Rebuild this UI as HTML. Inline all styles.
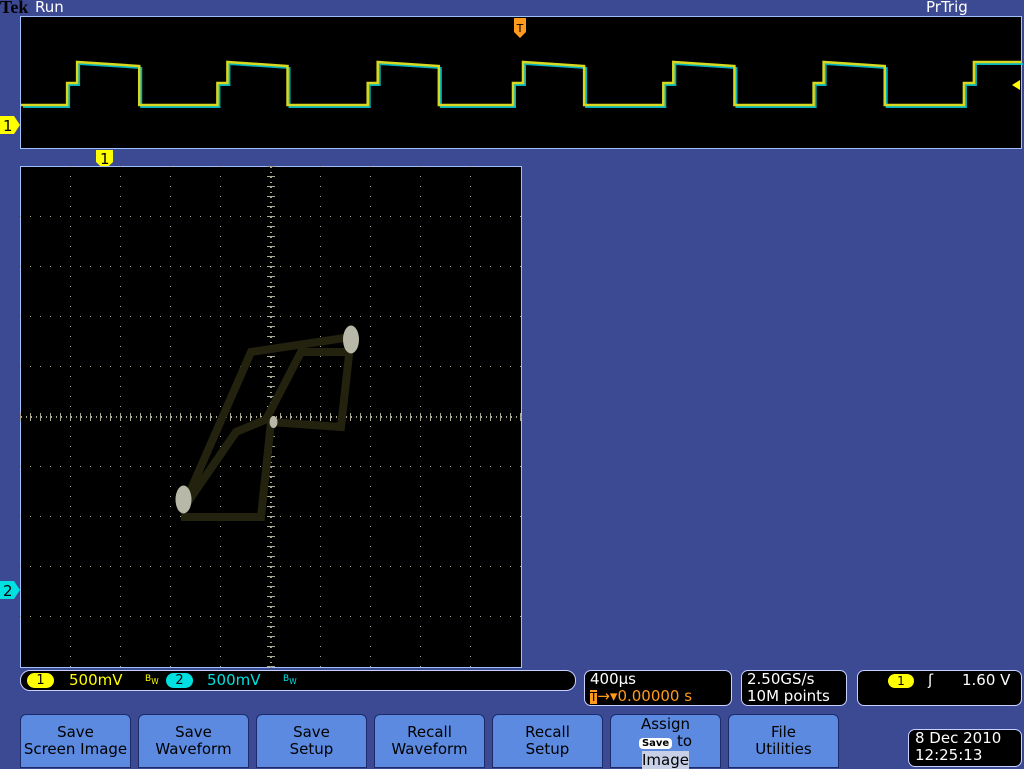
<!DOCTYPE html>
<html><head><meta charset="utf-8">
<style>
body{margin:0;width:1024px;height:768px;background:#3c4a94;overflow:hidden;font-family:"Liberation Sans","DejaVu Sans",sans-serif;position:relative}
.abs{position:absolute}
.btn{position:absolute;top:714px;width:111px;height:54px;background:#5b8ae0;border:1px solid #1c2a6a;border-radius:6px 6px 0 0;box-sizing:border-box;color:#000;font-family:"DejaVu Sans",sans-serif;font-size:15px;text-align:center;line-height:17px;padding-top:9px}
.box{position:absolute;background:#000;border:1px solid #c8d0ff;border-radius:7px;box-sizing:border-box;font-family:"DejaVu Sans",sans-serif;font-size:15px;color:#fff}
</style></head><body>
<div class="abs" style="left:0;top:-3px;font-family:'Liberation Serif',serif;font-weight:bold;font-size:18px;color:#000">Tek</div>
<div class="abs" style="left:35px;top:-2px;font-family:'DejaVu Sans',sans-serif;font-size:15px;color:#fff">Run</div>
<div class="abs" style="left:926px;top:-2px;font-family:'DejaVu Sans',sans-serif;font-size:15px;color:#fff">PrTrig</div>
<svg class="abs" style="left:0;top:0" width="1024" height="700">
<rect x="20.5" y="16.5" width="1001" height="132" fill="#000" stroke="#9fc0ff"/>
<g id="wave"></g>
<path d="M514 18h12v14l-6 6l-6-6z" fill="#ff9a1c"/>
<text x="520" y="32" font-size="11" text-anchor="middle" fill="#000" font-family="DejaVu Sans">T</text>
<path d="M1012 85l8-5v10z" fill="#ffff00"/>
<path d="M0 116h14l6 9l-6 9h-14z" fill="#ffff00"/>
<text x="3" y="131" font-size="15" fill="#000" font-family="DejaVu Sans">1</text>
<path d="M96 150h17v12l-8.5 8l-8.5-8z" fill="#ffff00"/>
<text x="100" y="164" font-size="15" fill="#000" font-family="DejaVu Sans">1</text>
<path d="M0 581h14l6 9l-6 9h-14z" fill="#00e0e0"/>
<text x="3" y="596" font-size="15" fill="#000" font-family="DejaVu Sans">2</text>
<rect x="20.5" y="166.5" width="501" height="501" fill="#000" stroke="#9fc0ff"/>
<g id="grid"></g>
<g id="xy"></g>
</svg>
<div class="box" style="left:20px;top:670px;width:556px;height:21px;border-radius:10px">
<span class="abs" style="left:6px;top:2px;width:27px;height:15px;background:#ffff00;border-radius:8px;color:#000;text-align:center;font-size:13px;line-height:15px">1</span>
<span class="abs" style="left:48px;top:0;color:#ffff00">500mV</span>
<span class="abs" style="left:124px;top:3px;color:#ffff00;font-size:9px">B<sub>W</sub></span>
<span class="abs" style="left:145px;top:2px;width:27px;height:15px;background:#00e0e0;border-radius:8px;color:#000;text-align:center;font-size:13px;line-height:15px">2</span>
<span class="abs" style="left:186px;top:0;color:#00e0e0">500mV</span>
<span class="abs" style="left:262px;top:3px;color:#00e0e0;font-size:9px">B<sub>W</sub></span>
</div>
<div class="box" style="left:584px;top:670px;width:148px;height:36px;padding-left:5px;line-height:17px">400µs<br><span style="color:#ff9a1c"><span style="background:#ff9a1c;color:#000;font-size:12px">T</span>→▾0.00000 s</span></div>
<div class="box" style="left:741px;top:670px;width:106px;height:36px;padding-left:5px;line-height:17px">2.50GS/s<br>10M points</div>
<div class="box" style="left:857px;top:670px;width:165px;height:36px">
<span class="abs" style="left:30px;top:3px;width:26px;height:14px;background:#ffff00;border-radius:8px;color:#000;text-align:center;font-size:12px;line-height:14px">1</span>
<span class="abs" style="left:70px;top:0">ʃ</span><span class="abs" style="left:104px;top:0">1.60 V</span></div>
<div class="btn" style="left:20px">Save<br>Screen Image</div>
<div class="btn" style="left:138px">Save<br>Waveform</div>
<div class="btn" style="left:256px">Save<br>Setup</div>
<div class="btn" style="left:374px">Recall<br>Waveform</div>
<div class="btn" style="left:492px">Recall<br>Setup</div>
<div class="btn" style="left:610px;line-height:17px;padding-top:1px">Assign<br><span style="background:#fff;border-radius:4px;font-size:10px;font-weight:bold;padding:0 3px">Save</span> to<br><span style="background:#c8d0e8">Image</span></div>
<div class="btn" style="left:728px">File<br>Utilities</div>
<div class="box" style="left:908px;top:729px;width:114px;height:38px;line-height:17px;padding-left:6px"> 8 Dec 2010<br>12:25:13</div>
<script>
// Waveform edges (µs from left of screen, 400µs/div, 10 div)
const riseTimes=[228,828,1428,2008,2608,3208,3808];
const fallTimes=[476,1068,1672,2252,2852,3452];
const levels={low:-0.14,high:0.72,step:0.3}; // divisions relative to trace reference
// XY trajectory (divisions)
const xyX=[-1.8,-0.2,0,1.4,1.6,-0.4,-1.8,-0.7,-0.1,0.6,1.5];
const xyY=[-2.0,-2.0,-0.1,-0.2,1.6,1.3,-1.9,-0.3,-0.05,1.3,1.3];
const blobsX=[-1.75,1.6,0.05];
const blobsY=[-1.65,1.55,-0.1];
const NS='http://www.w3.org/2000/svg';
const tx=t=>20+t*1002/4000, ty=v=>98-v*50;
const gx=d=>271+d*50, gy=d=>417-d*50;
const w=document.getElementById('wave');
function addPath(g,d,c,sw,op){const p=document.createElementNS(NS,'path');p.setAttribute('d',d);p.setAttribute('stroke',c);p.setAttribute('stroke-width',sw);p.setAttribute('fill','none');p.setAttribute('opacity',op);


g.appendChild(p);return p;}
let d='M21 '+ty(levels.low);
for(let i=0;i<riseTimes.length;i++){
 const r=tx(riseTimes[i]);d+=` L${r-10} ${ty(levels.low)} L${r-10} ${ty(levels.step)} L${r} ${ty(levels.step)} L${r} ${ty(levels.high)}`;
 if(i<fallTimes.length){const f=tx(fallTimes[i]);d+=` L${f} ${ty(levels.high)+4} L${f} ${ty(levels.low)}`;} else d+=` L1021 ${ty(levels.high)}`;
}
const cyan=addPath(w,d,'#00c8d8',2,0.9);cyan.setAttribute('transform','translate(2,2)');
addPath(w,d,'#d8d820',2.5,1);
const g=document.getElementById('grid');
let gd='';
for(let i=1;i<10;i++){for(let k=0;k<=50;k++){gd+=`M${20+i*50} ${166+k*10}h1v1h-1z M${20+k*10} ${166+i*50}h1v1h-1z `;}}
for(let k=0;k<=100;k++){gd+=`M270 ${167+k*5}h2v1h-2z M${21+k*5} 416h1v2h-1z `;}
for(let k=0;k<=50;k++){gd+=`M267 ${166+k*10}h8v1h-8z M${20+k*10} 413h1v8h-1z `;}
const gp=document.createElementNS(NS,'path');gp.setAttribute('d',gd);gp.setAttribute('fill','#a8a890');


g.appendChild(gp);
const xy=document.getElementById('xy');
let xd='M'+xyX.map((x,i)=>gx(x)+' '+gy(xyY[i])).join(' L');
addPath(xy,xd,'#22220f',8,1);
for(let i=0;i<blobsX.length;i++){const e=document.createElementNS(NS,'ellipse');e.setAttribute('cx',gx(blobsX[i]));e.setAttribute('cy',gy(blobsY[i]));e.setAttribute('rx',i==2?4:8);e.setAttribute('ry',i==2?6:14);e.setAttribute('fill','#b8b8a8');


xy.appendChild(e);}
</script>
</body></html>
